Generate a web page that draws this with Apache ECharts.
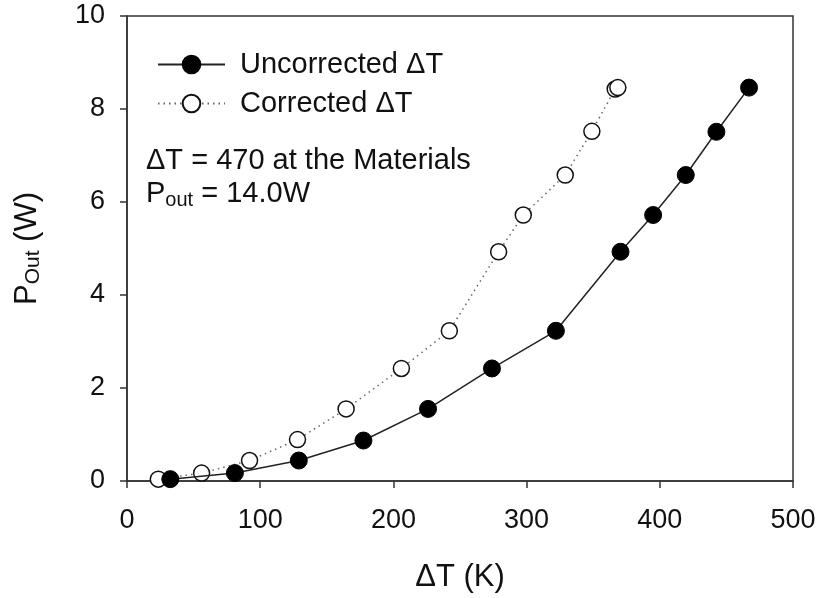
<!DOCTYPE html>
<html>
<head>
<meta charset="utf-8">
<title>P_out vs dT</title>
<script src="https://cdn.jsdelivr.net/npm/echarts@6/dist/echarts.min.js"></script>
<style>
	html, body { margin: 0; padding: 0; background: #fff; }
	#chart { width: 827px; height: 598px; }
</style>
</head>
<body>
<div id="chart"></div>
<script>
// 数据
var uncorrectedX = [32.5, 81, 129, 177.5, 226, 274, 322, 370.5, 395, 419.5, 442.5, 467];
var uncorrectedY = [0.04, 0.17, 0.44, 0.87, 1.55, 2.42, 3.23, 4.93, 5.72, 6.58, 7.51, 8.46];
var correctedX = [23.5, 56, 92, 128, 164.5, 206, 242, 279, 297.5, 329, 349, 366.5, 368.5];
var correctedY = [0.04, 0.17, 0.44, 0.89, 1.55, 2.42, 3.23, 4.93, 5.72, 6.58, 7.52, 8.43, 8.46];

var xTicks = [0, 100, 200, 300, 400, 500];
var yTicks = [0, 2, 4, 6, 8, 10];

var FONT = 'Liberation Sans, Arial, sans-serif';

function pairs(xs, ys) {
	return xs.map(function (x, i) {
		return [x, ys[i]];
	});
}

var myChart = echarts.init(document.getElementById('chart'));

myChart.setOption({
	animation: false,
	grid: {
		left: 127,
		right: 34,
		top: 16,
		bottom: 117,
		show: true,
		borderColor: '#333',
		borderWidth: 1.5,
		backgroundColor: 'transparent'
	},
	legend: {
		orient: 'vertical',
		left: 157,
		top: 50,
		padding: 0,
		itemWidth: 67,
		itemHeight: 22,
		itemGap: 10,
		textStyle: { fontFamily: FONT, fontSize: 29, color: '#111', padding: [0, 0, 0, 10] },
		data: ['Uncorrected ΔT', 'Corrected ΔT']
	},
	xAxis: {
		type: 'value',
		min: xTicks[0],
		max: xTicks[xTicks.length - 1],
		interval: 100,
		name: 'ΔT (K)',
		nameLocation: 'middle',
		nameGap: 81,
		nameTextStyle: { fontFamily: FONT, fontSize: 31, color: '#111' },
		axisLine: { lineStyle: { color: '#333', width: 1.5 } },
		axisTick: { length: 7, lineStyle: { color: '#333', width: 1.5 } },
		axisLabel: { fontFamily: FONT, fontSize: 27, color: '#111', margin: 26 },
		splitLine: { show: false }
	},
	yAxis: {
		type: 'value',
		min: yTicks[0],
		max: yTicks[yTicks.length - 1],
		interval: 2,
		name: 'P{s|Out} (W)',
		nameLocation: 'middle',
		nameRotate: 90,
		nameGap: 83,
		nameTextStyle: {
			fontFamily: FONT, fontSize: 31, color: '#111', lineHeight: 34,
			rich: {
				s: { fontFamily: FONT, fontSize: 21, color: '#111', lineHeight: 10, verticalAlign: 'bottom' }
			}
		},
		axisLine: { show: true, lineStyle: { color: '#333', width: 1.5 } },
		axisTick: { show: true, length: 7, lineStyle: { color: '#333', width: 1.5 } },
		axisLabel: { fontFamily: FONT, fontSize: 27, color: '#111', margin: 22 },
		splitLine: { show: false }
	},
	// 注释文字
	graphic: [
		{
			type: 'text',
			left: 146,
			top: 146,
			style: {
				text: '{a|ΔT = 470 at the Materials}\n{a|P}{s|out}{a| = 14.0W}',
				fill: '#111',
				rich: {
					a: { fontFamily: FONT, fontSize: 29, color: '#111', lineHeight: 33 },
					s: { fontFamily: FONT, fontSize: 20, color: '#111', lineHeight: 10, verticalAlign: 'bottom' }
				}
			}
		}
	],
	series: [
		{
			name: 'Uncorrected ΔT',
			type: 'line',
			data: pairs(uncorrectedX, uncorrectedY),
			symbol: 'circle',
			symbolSize: 17,
			itemStyle: { color: '#000', borderColor: '#000', borderWidth: 1 },
			lineStyle: { color: '#222', width: 1.5, type: 'solid' },
			z: 3
		},
		{
			name: 'Corrected ΔT',
			type: 'line',
			data: pairs(correctedX, correctedY),
			symbol: 'circle',
			symbolSize: 16,
			itemStyle: { color: '#fff', borderColor: '#111', borderWidth: 1.5 },
			lineStyle: { color: '#666', width: 1.5, type: [1.5, 4] },
			z: 2
		}
	]
});
</script>
</body>
</html>
